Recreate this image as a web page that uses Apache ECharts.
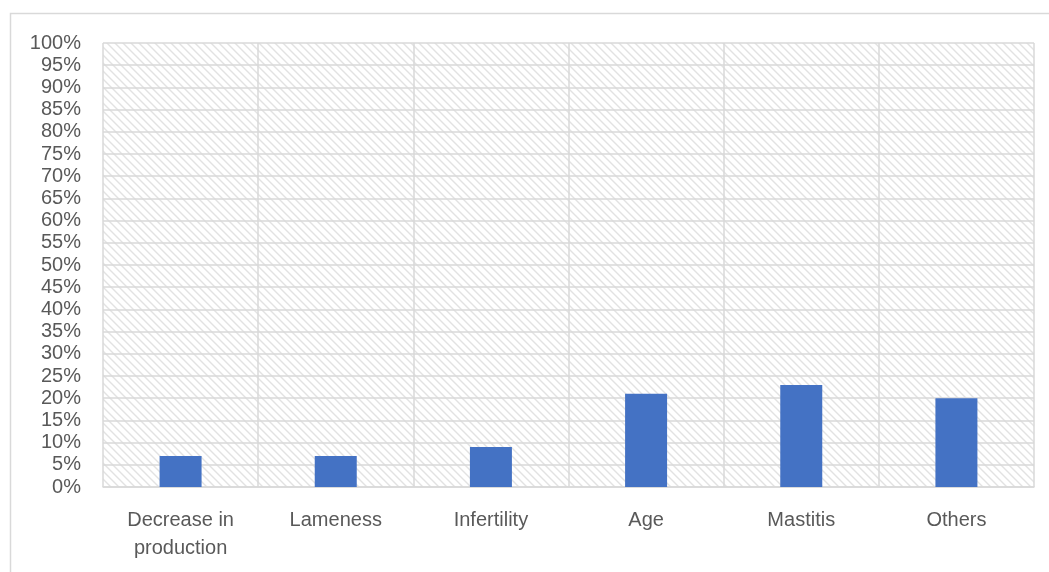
<!DOCTYPE html>
<html>
<head>
<meta charset="utf-8">
<style>
  html, body { margin: 0; padding: 0; background: #ffffff; }
  #chart { width: 1049px; height: 572px; }
</style>
<script src="https://cdn.jsdelivr.net/npm/echarts@6/dist/echarts.min.js"></script>
</head>
<body>
<div id="chart"></div>
<script>
// Reasons for culling, share of animals (%)
const categories = ['Decrease in\nproduction', 'Lameness', 'Infertility', 'Age', 'Mastitis', 'Others'];
const shares = [7, 7, 9, 21, 23, 20];
const yMin = 0;
const yMax = 100;
const yStep = 5;

// Light diagonal hatching used as the plot-area fill
function hatchPattern() {
  const size = 8;
  const c = document.createElement('canvas');
  c.width = size;
  c.height = size;
  const ctx = c.getContext('2d');
  ctx.fillStyle = '#ffffff';
  ctx.fillRect(0, 0, size, size);
  ctx.strokeStyle = '#e2e2e2';
  ctx.lineWidth = 1.4;
  ctx.beginPath();
  for (let k = -1; k <= 1; k++) {
    ctx.moveTo(k * size - 1, -1);
    ctx.lineTo(k * size + size + 1, size + 1);
  }
  ctx.stroke();
  return { image: c, repeat: 'repeat' };
}

const chart = echarts.init(document.getElementById('chart'), null, { renderer: 'canvas' });
const textColor = '#595959';
const lineColor = '#d9d9d9';
const font = '"Liberation Sans", Arial, sans-serif';

chart.setOption({
  animation: false,
  backgroundColor: '#ffffff',
  graphic: [{
    type: 'rect',
    silent: true,
    z: -10,
    shape: { x: 10.5, y: 13.5, width: 1200, height: 700 },
    style: { fill: 'none', stroke: lineColor, lineWidth: 1.5 }
  }],
  grid: {
    left: 103,
    right: 15,
    top: 43,
    bottom: 85,
    show: true,
    borderWidth: 0,
    backgroundColor: hatchPattern()
  },
  xAxis: {
    type: 'category',
    data: categories,
    boundaryGap: true,
    axisLine: { show: true, lineStyle: { color: lineColor, width: 1.5 } },
    axisTick: { show: false },
    splitLine: { show: true, lineStyle: { color: lineColor, width: 1.5 } },
    axisLabel: {
      color: textColor,
      fontFamily: font,
      fontSize: 20,
      lineHeight: 28,
      margin: 19,
      interval: 0
    }
  },
  yAxis: {
    type: 'value',
    min: yMin,
    max: yMax,
    interval: yStep,
    axisLine: { show: false },
    axisTick: { show: false },
    splitLine: { show: true, lineStyle: { color: lineColor, width: 1.5 } },
    axisLabel: {
      color: textColor,
      fontFamily: font,
      fontSize: 20,
      margin: 22,
      formatter: '{value}%'
    }
  },
  series: [{
    type: 'bar',
    data: shares,
    barWidth: 42,
    itemStyle: { color: '#4472c4' },
    z: 3
  }]
});
</script>
</body>
</html>
